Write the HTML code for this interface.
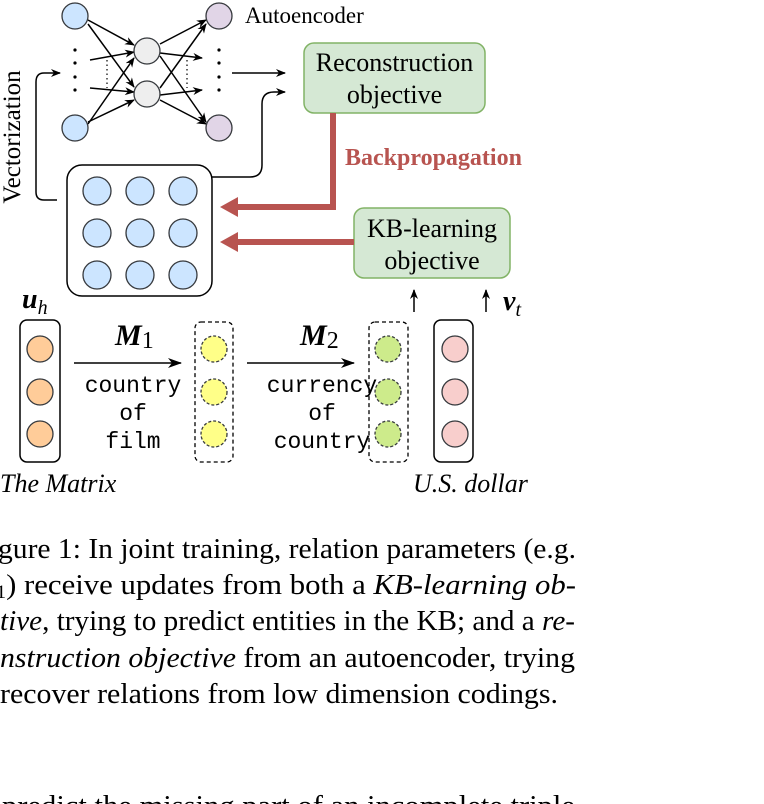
<!DOCTYPE html>
<html><head><meta charset="utf-8"><style>
html,body{margin:0;padding:0;background:#fff;}
svg{display:block;}
.serif{font-family:"Liberation Serif",serif;}
.mono{font-family:"Liberation Mono",monospace;}
</style></head><body>
<svg width="764" height="804" viewBox="0 0 764 804" xmlns="http://www.w3.org/2000/svg">
<defs>
<marker id="ah" markerWidth="10" markerHeight="8" refX="9" refY="4" orient="auto" markerUnits="userSpaceOnUse"><path d="M0,0 L10,4 L0,8 L3,4 Z" fill="#000"/></marker>
<marker id="ah2" markerWidth="14" markerHeight="10" refX="13" refY="5" orient="auto" markerUnits="userSpaceOnUse"><path d="M0,0 L14,5 L0,10 L4,5 Z" fill="#000"/></marker>
</defs>
<g stroke="#000" stroke-width="1.5" fill="none" marker-end="url(#ah)">
<line x1="88" y1="20" x2="134" y2="45"/>
<line x1="88" y1="124" x2="134" y2="58"/>
<line x1="88" y1="24" x2="134" y2="87"/>
<line x1="88" y1="122" x2="134" y2="100"/>
<line x1="90" y1="60" x2="134" y2="52"/>
<line x1="90" y1="88" x2="134" y2="92"/>
<line x1="160" y1="44" x2="206" y2="20"/>
<line x1="160" y1="88" x2="206" y2="24"/>
<line x1="160" y1="56" x2="206" y2="122"/>
<line x1="160" y1="100" x2="206" y2="124"/>
<line x1="160" y1="53" x2="202" y2="58"/>
<line x1="160" y1="95" x2="202" y2="90"/>
<line x1="232" y1="73" x2="285" y2="73"/>
<path d="M212,177 L250,177 Q262,177 262,165 L262,104 Q262,92 274,92 L285,92"/>
<path d="M57,200 L44,200 Q36,200 36,192 L36,82 Q36,73 44,73 L60,73"/>
<line x1="414" y1="312" x2="414" y2="290"/>
<line x1="486" y1="312" x2="486" y2="290"/>
</g>
<g stroke="#000" stroke-width="1.2" stroke-dasharray="1.5,3">
<line x1="107" y1="60" x2="107" y2="88"/><line x1="187" y1="60" x2="187" y2="88"/>
</g>
<g fill="#000">
<circle cx="75" cy="50" r="1.6"/><circle cx="75" cy="63" r="1.6"/><circle cx="75" cy="77" r="1.6"/><circle cx="75" cy="90" r="1.6"/>
<circle cx="219" cy="50" r="1.6"/><circle cx="219" cy="63" r="1.6"/><circle cx="219" cy="77" r="1.6"/><circle cx="219" cy="90" r="1.6"/>
</g>
<g stroke="#36393d" stroke-width="1.3">
<circle cx="75" cy="16" r="13" fill="#cce5ff"/><circle cx="75" cy="128" r="13" fill="#cce5ff"/>
<circle cx="147" cy="51" r="13" fill="#eeeeee"/><circle cx="147" cy="94" r="13" fill="#eeeeee"/>
<circle cx="219" cy="16" r="13" fill="#e1d5e7"/><circle cx="219" cy="128" r="13" fill="#e1d5e7"/>
</g>
<text x="245" y="23" class="serif" font-size="23">Autoencoder</text>
<rect x="304" y="43" width="181" height="70" rx="10" fill="#d5e8d4" stroke="#82b366" stroke-width="1.5"/>
<text x="394.5" y="71" class="serif" font-size="26" text-anchor="middle">Reconstruction</text>
<text x="394.5" y="103" class="serif" font-size="26" text-anchor="middle">objective</text>
<rect x="354" y="208" width="156" height="70" rx="10" fill="#d5e8d4" stroke="#82b366" stroke-width="1.5"/>
<text x="432" y="237" class="serif" font-size="26" text-anchor="middle">KB-learning</text>
<text x="432" y="269" class="serif" font-size="26" text-anchor="middle">objective</text>
<text transform="translate(20,137) rotate(-90)" class="serif" font-size="25" text-anchor="middle">Vectorization</text>
<rect x="67" y="165" width="145" height="131" rx="15" fill="#fff" stroke="#000" stroke-width="1.5"/>
<g stroke="#36393d" stroke-width="1.3" fill="#cce5ff">
<circle cx="97" cy="191" r="14"/><circle cx="140" cy="191" r="14"/><circle cx="183" cy="191" r="14"/>
<circle cx="97" cy="233" r="14"/><circle cx="140" cy="233" r="14"/><circle cx="183" cy="233" r="14"/>
<circle cx="97" cy="275" r="14"/><circle cx="140" cy="275" r="14"/><circle cx="183" cy="275" r="14"/>
</g>
<g stroke="#b85450" stroke-width="6" fill="none">
<path d="M333,113 L333,207 L234,207"/>
<line x1="354" y1="242" x2="234" y2="242"/>
</g>
<path d="M220,207 L238,197 L238,217 Z" fill="#b85450"/>
<path d="M220,242 L238,232 L238,252 Z" fill="#b85450"/>
<text x="345" y="165" class="serif" font-size="24" font-weight="bold" fill="#b85450">Backpropagation</text>
<text x="22" y="308" class="serif" font-size="28" font-weight="bold" font-style="italic">u<tspan font-size="20" dy="6" font-weight="normal">h</tspan></text>
<text x="503" y="310" class="serif" font-size="28" font-weight="bold" font-style="italic">v<tspan font-size="20" dy="6" font-weight="normal">t</tspan></text>
<rect x="20" y="320" width="40" height="142" rx="7" fill="none" stroke="#000" stroke-width="1.5"/>
<rect x="434" y="320" width="39" height="142" rx="7" fill="none" stroke="#000" stroke-width="1.5"/>
<rect x="195" y="322" width="38" height="140" rx="6" fill="none" stroke="#000" stroke-width="1.3" stroke-dasharray="4,3"/>
<rect x="369" y="322" width="39" height="140" rx="6" fill="none" stroke="#000" stroke-width="1.3" stroke-dasharray="4,3"/>
<g stroke="#36393d" stroke-width="1.3">
<circle cx="40" cy="349" r="13" fill="#ffcc99"/><circle cx="40" cy="392" r="13" fill="#ffcc99"/><circle cx="40" cy="434" r="13" fill="#ffcc99"/>
<circle cx="455" cy="349" r="13" fill="#f8cecc"/><circle cx="455" cy="392" r="13" fill="#f8cecc"/><circle cx="455" cy="434" r="13" fill="#f8cecc"/>
</g>
<g stroke="#36393d" stroke-width="1.3" stroke-dasharray="3,2">
<circle cx="214" cy="349" r="13" fill="#ffff88"/><circle cx="214" cy="392" r="13" fill="#ffff88"/><circle cx="214" cy="434" r="13" fill="#ffff88"/>
<circle cx="388" cy="349" r="13" fill="#cdeb8b"/><circle cx="388" cy="392" r="13" fill="#cdeb8b"/><circle cx="388" cy="434" r="13" fill="#cdeb8b"/>
</g>
<g stroke="#000" stroke-width="1.5" marker-end="url(#ah2)">
<line x1="74" y1="363" x2="181" y2="363"/>
<line x1="247" y1="363" x2="354" y2="363"/>
</g>
<text x="115" y="345" class="serif" font-size="30" font-weight="bold" font-style="italic">M<tspan font-size="24" dy="3" font-weight="normal" font-style="normal">1</tspan></text>
<text x="300" y="345" class="serif" font-size="30" font-weight="bold" font-style="italic">M<tspan font-size="24" dy="3" font-weight="normal" font-style="normal">2</tspan></text>
<g class="mono" font-size="23" text-anchor="middle">
<text x="133" y="392">country</text><text x="133" y="420">of</text><text x="133" y="448">film</text>
<text x="322" y="392">currency</text><text x="322" y="420">of</text><text x="322" y="448">country</text>
</g>
<text x="0" y="492" class="serif" font-size="26" font-style="italic">The Matrix</text>
<text x="413" y="492" class="serif" font-size="26" font-style="italic">U.S. dollar</text>
<g class="serif" font-size="29">
<text x="-2" y="558" textLength="578" lengthAdjust="spacingAndGlyphs">gure 1: In joint training, relation parameters (e.g.</text>
<text x="-4" y="594" textLength="580" lengthAdjust="spacingAndGlyphs"><tspan font-size="19" dy="4">1</tspan><tspan dy="-4">) receive updates from both a </tspan><tspan font-style="italic">KB-learning ob-</tspan></text>
<text x="0" y="630" textLength="575" lengthAdjust="spacingAndGlyphs"><tspan font-style="italic">tive</tspan>, trying to predict entities in the KB; and a <tspan font-style="italic">re-</tspan></text>
<text x="0" y="667" textLength="575" lengthAdjust="spacingAndGlyphs"><tspan font-style="italic">nstruction objective</tspan> from an autoencoder, trying</text>
<text x="0" y="703" textLength="558" lengthAdjust="spacingAndGlyphs">recover relations from low dimension codings.</text>
<text x="2" y="815" textLength="573" lengthAdjust="spacingAndGlyphs">predict the missing part of an incomplete triple</text>
</g>
</svg>
</body></html>
